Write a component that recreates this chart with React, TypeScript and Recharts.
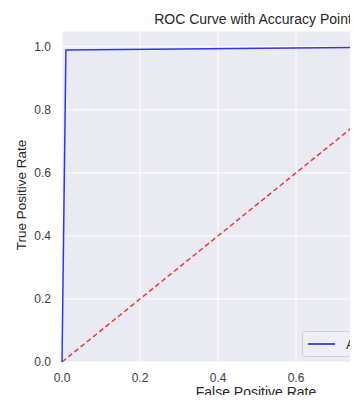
import React from 'react'
import { CartesianGrid, Legend, Line, LineChart, XAxis, YAxis } from 'recharts'

// ROC curve points (false positive rate, true positive rate)
const rocFpr = [0, 0.01, 1]
const rocTpr = [0, 0.99, 1]
// random-guess diagonal
const chanceFpr = [0, 1]
const chanceTpr = [0, 1]

const xTicks = [0, 0.2, 0.4, 0.6, 0.8, 1.0]
const yTicks = [0, 0.2, 0.4, 0.6, 0.8, 1.0]
const legendLabel = 'Accuracy ROC curve'

const rocData = rocFpr.map((x, i) => ({ x, roc: rocTpr[i] }))
const chanceData = chanceFpr.map((x, i) => ({ x, chance: chanceTpr[i] }))

const font = '"Liberation Sans", Arial, sans-serif'
const tick = { fill: '#3a3a3a', fontSize: 12, fontFamily: font }

function LegendBox() {
  return (
    <div
      style={{
        display: 'flex',
        alignItems: 'center',
        height: 24,
        padding: '0 8px 0 5px',
        background: '#EEEEF4',
        border: '1px solid #d0d0d8',
        borderRadius: 3,
        fontFamily: font,
        fontSize: 13,
        color: '#262626',
        whiteSpace: 'nowrap',
      }}
    >
      <span style={{ display: 'inline-block', width: 27, height: 2, background: '#4c4cf0', marginRight: 11 }} />
      {legendLabel}
    </div>
  )
}

export default function App() {
  return (
    <div style={{ position: 'relative', width: 358, height: 403, margin: -8, overflow: 'hidden', background: '#fff' }}>
      <div style={{ position: 'absolute', left: 0, top: 0 }}>
        <LineChart width={500} height={403} margin={{ top: 31, right: 48, bottom: 0, left: 0 }}>
          <CartesianGrid fill="#EAEAF2" stroke="#ffffff" strokeWidth={1} />
          <XAxis
            type="number"
            dataKey="x"
            domain={[0, 1]}
            ticks={xTicks}
            tickFormatter={(v: number) => v.toFixed(1)}
            axisLine={false}
            tickLine={false}
            tick={tick}
            height={41}
            tickSize={9}
            allowDuplicatedCategory={false}
          />
          <YAxis
            type="number"
            domain={[0, 1.05]}
            ticks={yTicks}
            tickFormatter={(v: number) => v.toFixed(1)}
            axisLine={false}
            tickLine={false}
            tick={tick}
            width={62}
            tickSize={9}
          />
          <Line
            data={chanceData}
            dataKey="chance"
            stroke="#f03838"
            strokeWidth={1.5}
            strokeDasharray="5 3"
            dot={false}
            isAnimationActive={false}
            legendType="none"
          />
          <Line
            data={rocData}
            dataKey="roc"
            stroke="#3434ee"
            strokeWidth={1.5}
            dot={false}
            isAnimationActive={false}
          />
          <Legend
            layout="horizontal"
            verticalAlign="middle"
            align="center"
            content={() => <LegendBox />}
            wrapperStyle={{ left: 302, top: 331, width: 'auto' }}
          />
        </LineChart>
      </div>
      <div
        style={{
          position: 'absolute',
          left: 53,
          width: 400,
          top: 11,
          textAlign: 'center',
          fontFamily: font,
          fontSize: 14,
          lineHeight: '16px',
          color: '#262626',
          whiteSpace: 'nowrap',
        }}
      >
        ROC Curve with Accuracy Point
      </div>
      <div
        style={{
          position: 'absolute',
          left: 56,
          width: 400,
          top: 384,
          textAlign: 'center',
          fontFamily: font,
          fontSize: 14,
          lineHeight: '16px',
          color: '#262626',
        }}
      >
        False Positive Rate
      </div>
      <div
        style={{
          position: 'absolute',
          left: 22,
          top: 195,
          transform: 'translate(-50%, -50%) rotate(-90deg)',
          fontFamily: font,
          fontSize: 13.5,
          lineHeight: '16px',
          color: '#262626',
          whiteSpace: 'nowrap',
        }}
      >
        True Positive Rate
      </div>
    </div>
  )
}
